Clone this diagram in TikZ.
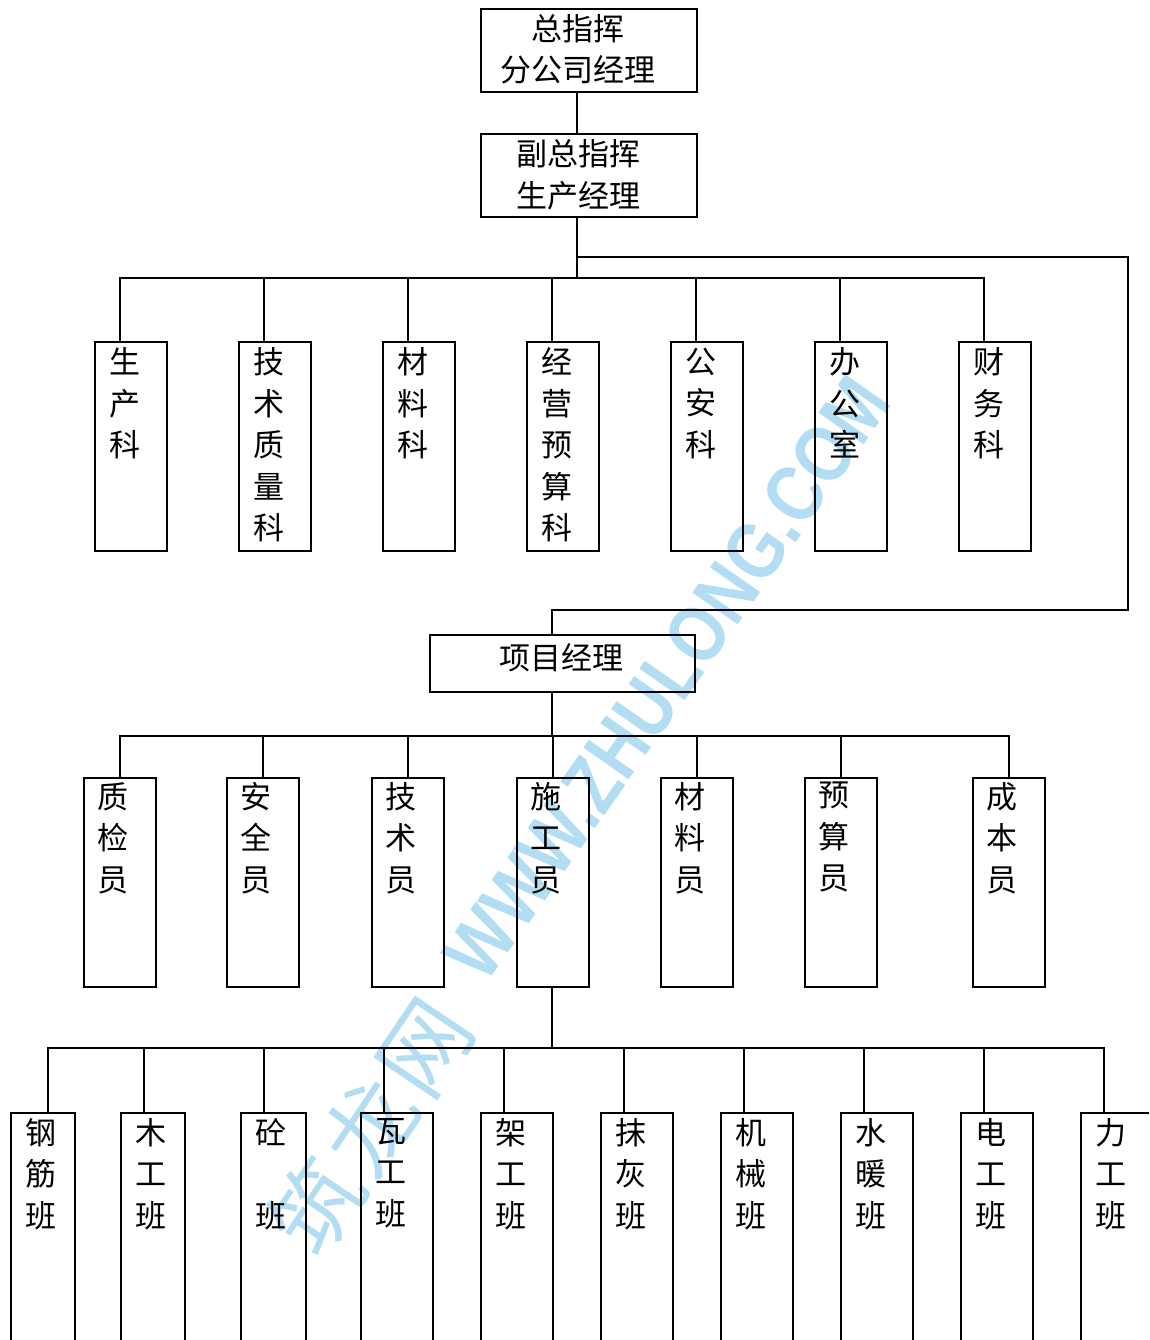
\documentclass[tikz,border=0pt]{standalone}
\usepackage{fontspec}
\usepackage{tikz}
\newfontfamily\cjk{Noto Sans CJK SC}
\newfontfamily\wmfont{Liberation Sans}
\definecolor{zlblue}{HTML}{B3DDF3}

\begin{document}
\begin{tikzpicture}[x=1pt, y=-1pt,
    box/.style={draw, line width=2.4pt, inner sep=0pt, anchor=north west},
    headbox/.style={box, minimum width=216pt, minimum height=83pt},
    pmbox/.style={box, minimum width=265pt, minimum height=57pt},
    kebox/.style={box, minimum width=72pt, minimum height=209pt},
    banbox/.style={box, minimum width=72pt, minimum height=260pt},
    cn/.style={font=\cjk\fontsize{31}{41.5}\selectfont, inner sep=0pt, align=center},
    coltxt/.style={cn, anchor=north},
    link/.style={line width=1.8pt},
    wm/.style={text=zlblue, inner sep=0pt, transform shape}]

  \useasboundingbox (0,0) rectangle (1149,1340);
  \clip (0,0) rectangle (1149,1340);

  % --- watermark, under the chart
  \node[wm, font=\wmfont\bfseries\fontsize{67}{67}\selectfont, rotate=55, yscale=1.2] (wmurl) at (667,678) {WWW.ZHULONG.COM};
  \node[wm, font=\cjk\fontsize{90}{90}\selectfont, rotate=56] (wmname) at (370,1126) {筑\hspace{6pt}龙\hspace{6pt}网};

  % --- the two heads
  \node[headbox] (zzh) at (480,8) {};
  \node[cn] (zzht) at (578,49.5) {总指挥\\分公司经理};
  \node[headbox] (fzh) at (480,133) {};
  \node[cn] (fzht) at (578,175) {副总指挥\\生产经理};

  % --- the sections
  \node[kebox] (k1) at (94,341) {};
  \node[kebox] (k2) at (238,341) {};
  \node[kebox] (k3) at (382,341) {};
  \node[kebox] (k4) at (526,341) {};
  \node[kebox] (k5) at (670,341) {};
  \node[kebox] (k6) at (814,341) {};
  \node[kebox] (k7) at (958,341) {};
  \node[coltxt] (k1t) at ([xshift=30.5pt,yshift=-6.5pt]k1.north west) {生\\产\\科};
  \node[coltxt] (k2t) at ([xshift=30.5pt,yshift=-6.5pt]k2.north west) {技\\术\\质\\量\\科};
  \node[coltxt] (k3t) at ([xshift=30.5pt,yshift=-6.5pt]k3.north west) {材\\料\\科};
  \node[coltxt] (k4t) at ([xshift=30.5pt,yshift=-6.5pt]k4.north west) {经\\营\\预\\算\\科};
  \node[coltxt] (k5t) at ([xshift=30.5pt,yshift=-6.5pt]k5.north west) {公\\安\\科};
  \node[coltxt] (k6t) at ([xshift=30.5pt,yshift=-6.5pt]k6.north west) {办\\公\\室};
  \node[coltxt] (k7t) at ([xshift=30.5pt,yshift=-6.5pt]k7.north west) {财\\务\\科};

  % --- project manager and his staff
  \node[pmbox] (xm) at (429,634) {};
  \node[cn] (xmt) at (561,658) {项目经理};
  \node[kebox] (y1) at (83,777) {};
  \node[kebox] (y2) at (226,777) {};
  \node[kebox] (y3) at (371,777) {};
  \node[kebox] (y4) at (516,777) {};
  \node[kebox] (y5) at (660,777) {};
  \node[kebox] (y6) at (804,777) {};
  \node[kebox] (y7) at (972,777) {};
  \node[coltxt] (y1t) at ([xshift=30pt,yshift=-5pt]y1.north west) {质\\检\\员};
  \node[coltxt] (y2t) at ([xshift=30pt,yshift=-5pt]y2.north west) {安\\全\\员};
  \node[coltxt] (y3t) at ([xshift=30pt,yshift=-5pt]y3.north west) {技\\术\\员};
  \node[coltxt] (y4t) at ([xshift=30pt,yshift=-5pt]y4.north west) {施\\工\\员};
  \node[coltxt] (y5t) at ([xshift=30pt,yshift=-5pt]y5.north west) {材\\料\\员};
  \node[coltxt] (y6t) at ([xshift=30pt,yshift=-5pt]y6.north west) {预\\算\\员};
  \node[coltxt] (y7t) at ([xshift=30pt,yshift=-5pt]y7.north west) {成\\本\\员};

  % --- work crews, running off the page
  \node[banbox, minimum width=64pt] (b1) at (10,1112) {};
  \node[banbox, minimum width=64pt] (b2) at (120,1112) {};
  \node[banbox, minimum width=65pt] (b3) at (240,1112) {};
  \node[banbox] (b4) at (360,1112) {};
  \node[banbox] (b5) at (480,1112) {};
  \node[banbox] (b6) at (600,1112) {};
  \node[banbox] (b7) at (720,1112) {};
  \node[banbox] (b8) at (840,1112) {};
  \node[banbox] (b9) at (960,1112) {};
  \node[banbox] (b10) at (1080,1112) {};
  \node[coltxt] (b1t) at ([xshift=30.5pt,yshift=-6pt]b1.north west) {钢\\筋\\班};
  \node[coltxt] (b2t) at ([xshift=30.5pt,yshift=-6pt]b2.north west) {木\\工\\班};
  \node[coltxt] (b3t) at ([xshift=30.5pt,yshift=-6pt]b3.north west) {砼\\[41.5pt]班};
  \node[coltxt] (b4t) at ([xshift=30.5pt,yshift=-6pt]b4.north west) {瓦\\工\\班};
  \node[coltxt] (b5t) at ([xshift=30.5pt,yshift=-6pt]b5.north west) {架\\工\\班};
  \node[coltxt] (b6t) at ([xshift=30.5pt,yshift=-6pt]b6.north west) {抹\\灰\\班};
  \node[coltxt] (b7t) at ([xshift=30.5pt,yshift=-6pt]b7.north west) {机\\械\\班};
  \node[coltxt] (b8t) at ([xshift=30.5pt,yshift=-6pt]b8.north west) {水\\暖\\班};
  \node[coltxt] (b9t) at ([xshift=30.5pt,yshift=-6pt]b9.north west) {电\\工\\班};
  \node[coltxt] (b10t) at ([xshift=30.5pt,yshift=-6pt]b10.north west) {力\\工\\班};

  % --- trunks and branches
  \coordinate (bus1) at (577,278);
  \coordinate (bus2) at (552,736);
  \coordinate (bus3) at (552,1048);
  \coordinate (r1) at (1128,257);
  \coordinate (r2) at (1128,610);

  \draw[link] (zzh.south -| bus1) -- (fzh.north -| bus1);
  \draw[link] (fzh.south -| bus1) -- (bus1);
  \draw[link] (bus1 |- r1) -- (r1) -- (r2) -| (xm.north -| bus2);

  \draw[link] ([xshift=26pt]k1.north west) |- (bus1);
  \draw[link] ([xshift=26pt]k2.north west) |- (bus1);
  \draw[link] ([xshift=26pt]k3.north west) |- (bus1);
  \draw[link] ([xshift=26pt]k4.north west) |- (bus1);
  \draw[link] ([xshift=26pt]k5.north west) |- (bus1);
  \draw[link] ([xshift=26pt]k6.north west) |- (bus1);
  \draw[link] ([xshift=26pt]k7.north west) |- (bus1);

  \draw[link] (xm.south -| bus2) -- (bus2);
  \draw[link] (y1.north) |- (bus2);
  \draw[link] (y2.north) |- (bus2);
  \draw[link] (y3.north) |- (bus2);
  \draw[link] (y4.north) |- (bus2);
  \draw[link] (y5.north) |- (bus2);
  \draw[link] (y6.north) |- (bus2);
  \draw[link] (y7.north) |- (bus2);

  \draw[link] (y4.south -| bus3) -- (bus3);
  \draw[link] ([xshift=38pt]b1.north west) |- (bus3);
  \draw[link] ([xshift=24pt]b2.north west) |- (bus3);
  \draw[link] ([xshift=24pt]b3.north west) |- (bus3);
  \draw[link] ([xshift=24pt]b4.north west) |- (bus3);
  \draw[link] ([xshift=24pt]b5.north west) |- (bus3);
  \draw[link] ([xshift=24pt]b6.north west) |- (bus3);
  \draw[link] ([xshift=24pt]b7.north west) |- (bus3);
  \draw[link] ([xshift=24pt]b8.north west) |- (bus3);
  \draw[link] ([xshift=24pt]b9.north west) |- (bus3);
  \draw[link] ([xshift=24pt]b10.north west) |- (bus3);
\end{tikzpicture}
\end{document}
